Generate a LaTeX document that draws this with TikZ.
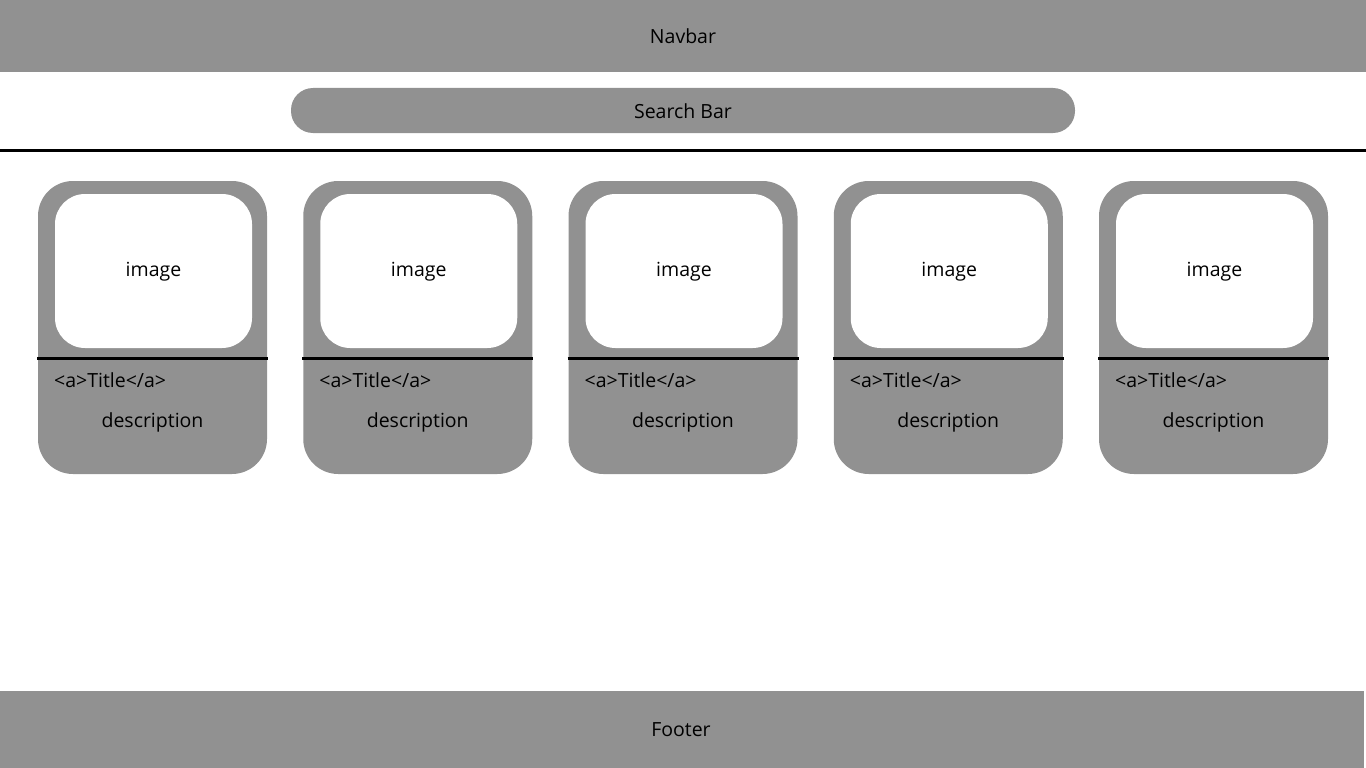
\documentclass[tikz,border=0pt]{standalone}
\usepackage{fontspec}
\setmainfont{Open Sans}
\definecolor{panel}{HTML}{919191}
\tikzset{
  bar/.style={fill=panel, draw=none},
  lbl/.style={font=\fontsize{19.5}{22}\selectfont, text=black, inner sep=0pt},
  cardbox/.style={fill=panel, draw=none, rounded corners=35pt},
  imgbox/.style={fill=white, draw=none, rounded corners=30pt},
  rule/.style={draw=black, line width=3pt},
}
\begin{document}
\begin{tikzpicture}[x=1pt,y=-1pt]
\useasboundingbox (0,0) rectangle (1366,768);
\fill[white] (0,0) rectangle (1366,768);
% navbar
\fill[bar] (0,0) rectangle (1366,72);
\node[lbl] (nav) at (683,36) {Navbar};
% search bar
\fill[bar, rounded corners=22pt] (291,88) rectangle (1075,133);
\node[lbl] (search) at (683,111) {Search Bar};
% separator
\coordinate (sepL) at (0,150);
\coordinate (sepR) at (1366,150);
\draw[rule] (sepL) -- (sepR);
% cards
\foreach \i in {0,...,4}{
  \pgfmathsetmacro{\dx}{265.25*\i}
  \begin{scope}[xshift=\dx]
    \fill[cardbox] (38,181) rectangle (267,474);
    \fill[imgbox] (55,194) rectangle (252,348);
    \node[lbl] (img\i) at (153.5,271.5) {image};
    \coordinate (lineL\i) at (37,358.5);
    \coordinate (lineR\i) at (268,358.5);
    \draw[rule] (lineL\i) -- (lineR\i);
    \node[lbl, anchor=west] (title\i) at (54,380.5) {<a>Title</a>};
    \node[lbl] (desc\i) at (152.5,422.5) {description};
  \end{scope}
}
% footer
\fill[bar] (0,691) rectangle (1364,768);
\node[lbl] (foot) at (681,729.5) {Footer};
\end{tikzpicture}
\end{document}
